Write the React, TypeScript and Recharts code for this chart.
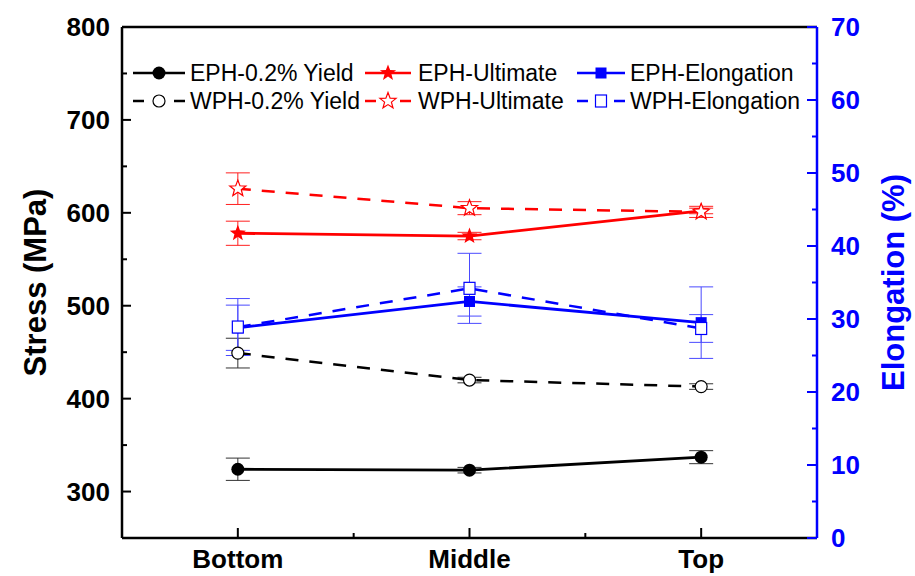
import React from "react";
import {
  ComposedChart,
  Line,
  XAxis,
  YAxis,
  ErrorBar,
  ReferenceLine,
} from "recharts";

// values
const categories = ["Bottom", "Middle", "Top"];

const ephYield = [324, 323, 337];
const ephYieldErr = [12, 3, 7];
const wphYield = [449, 420, 413];
const wphYieldErr = [16, 3, 3];

const ephUltimate = [578, 575, 602];
const ephUltimateErr = [13, 4, 3];
const wphUltimate = [626, 605, 601];
const wphUltimateErr = [17, 7, 6];

const ephElongation = [28.8, 32.4, 29.5];
const ephElongationErr = [3.1, 2.0, 4.9];
const wphElongation = [28.9, 34.2, 28.7];
const wphElongationErr = [3.9, 4.8, 1.9];

const stressTicks = [300, 350, 400, 450, 500, 550, 600, 650, 700, 750, 800];
const elongTicks = [0, 5, 10, 15, 20, 25, 30, 35, 40, 45, 50, 55, 60, 65, 70];
const posTicks = [1, 1.5, 2, 2.5, 3];

const data = categories.map((c, i) => ({
  pos: i + 1,
  category: c,
  ephYield: ephYield[i],
  ephYieldErr: ephYieldErr[i],
  wphYield: wphYield[i],
  wphYieldErr: wphYieldErr[i],
  ephUltimate: ephUltimate[i],
  ephUltimateErr: ephUltimateErr[i],
  wphUltimate: wphUltimate[i],
  wphUltimateErr: wphUltimateErr[i],
  ephElongation: ephElongation[i],
  ephElongationErr: ephElongationErr[i],
  wphElongation: wphElongation[i],
  wphElongationErr: wphElongationErr[i],
}));

type Shape = "circle" | "circleOpen" | "star" | "starOpen" | "square" | "squareOpen";

const series: {
  key: string;
  name: string;
  color: string;
  errColor: string;
  dashed: boolean;
  shape: Shape;
  axis: string;
}[] = [
  { key: "ephYield", name: "EPH-0.2% Yield", color: "#000", errColor: "#333", dashed: false, shape: "circle", axis: "stress" },
  { key: "wphYield", name: "WPH-0.2% Yield", color: "#000", errColor: "#333", dashed: true, shape: "circleOpen", axis: "stress" },
  { key: "ephUltimate", name: "EPH-Ultimate", color: "#ff0000", errColor: "#ff2020", dashed: false, shape: "star", axis: "stress" },
  { key: "wphUltimate", name: "WPH-Ultimate", color: "#ff0000", errColor: "#ff2020", dashed: true, shape: "starOpen", axis: "stress" },
  { key: "ephElongation", name: "EPH-Elongation", color: "#0000ff", errColor: "#4a4aff", dashed: false, shape: "square", axis: "elong" },
  { key: "wphElongation", name: "WPH-Elongation", color: "#0000ff", errColor: "#4a4aff", dashed: true, shape: "squareOpen", axis: "elong" },
];

const FONT = '"Liberation Sans", Arial, sans-serif';
const BLUE = "#0000ff";

function starPath(cx: number, cy: number, R: number, r: number) {
  let d = "";
  for (let i = 0; i < 10; i++) {
    const rad = i % 2 === 0 ? R : r;
    const a = -Math.PI / 2 + (i * Math.PI) / 5;
    d += `${i === 0 ? "M" : "L"}${cx + rad * Math.cos(a)},${cy + rad * Math.sin(a)}`;
  }
  return d + "Z";
}

function Marker({ cx, cy, shape, color }: { cx: number; cy: number; shape: Shape; color: string }) {
  switch (shape) {
    case "circle":
      return <circle cx={cx} cy={cy} r={6.5} fill={color} />;
    case "circleOpen":
      return <circle cx={cx} cy={cy} r={6} fill="#fff" stroke={color} strokeWidth={1.2} />;
    case "star":
      return <path d={starPath(cx, cy, 8.5, 3.6)} fill={color} />;
    case "starOpen":
      return <path d={starPath(cx, cy, 8.5, 3.6)} fill="#fff" stroke={color} strokeWidth={1.2} />;
    case "square":
      return <rect x={cx - 5.5} y={cy - 5.5} width={11} height={11} fill={color} />;
    default:
      return (
        <rect x={cx - 5.5} y={cy - 6} width={11} height={12} fill="#fff" stroke={color} strokeWidth={1.2} />
      );
  }
}

const tickFont = { fontFamily: FONT, fontWeight: 700, fontSize: 26 };

const StressTick = (props: any) => {
  const { x, y, payload } = props;
  const major = payload.value % 100 === 0;
  return (
    <g>
      <line x1={x} x2={x + (major ? 9 : 5)} y1={y} y2={y} stroke="#000" strokeWidth={2} />
      {major && (
        <text x={x - 12} y={y} textAnchor="end" dominantBaseline="central" fill="#000" style={tickFont}>
          {payload.value}
        </text>
      )}
    </g>
  );
};

const ElongTick = (props: any) => {
  const { x, y, payload } = props;
  const major = payload.value % 10 === 0;
  return (
    <g>
      <line x1={x} x2={x - (major ? 10 : 5)} y1={y} y2={y} stroke={BLUE} strokeWidth={2} />
      {major && (
        <text x={x + 14} y={y} textAnchor="start" dominantBaseline="central" fill={BLUE} style={tickFont}>
          {payload.value}
        </text>
      )}
    </g>
  );
};

const PosTick = (props: any) => {
  const { x, y, payload } = props;
  const major = Number.isInteger(payload.value);
  return (
    <g>
      <line x1={x} x2={x} y1={y} y2={y - (major ? 10 : 5)} stroke="#000" strokeWidth={2} />
      {major && (
        <text x={x} y={y + 21} textAnchor="middle" dominantBaseline="central" fill="#000" style={tickFont}>
          {categories[payload.value - 1]}
        </text>
      )}
    </g>
  );
};

const titleFont = { fontFamily: FONT, fontWeight: 700, fontSize: 31 };

const stressTitle = (props: any) => {
  const vb = props.viewBox;
  const cx = vb.x + 35;
  const cy = vb.y + vb.height / 2;
  return (
    <text x={cx} y={cy} transform={`rotate(-90 ${cx} ${cy})`} textAnchor="middle" dominantBaseline="central" fill="#000" style={titleFont}>
      Stress (MPa)
    </text>
  );
};

const elongTitle = (props: any) => {
  const vb = props.viewBox;
  const cx = vb.x + 76;
  const cy = vb.y + vb.height / 2;
  return (
    <text x={cx} y={cy} transform={`rotate(-90 ${cx} ${cy})`} textAnchor="middle" dominantBaseline="central" fill={BLUE} style={titleFont}>
      Elongation (%)
    </text>
  );
};

// legend layout: 3 columns x 2 rows (EPH row on top, WPH below)
const legendCols = [
  { x0: 133, x1: 185, mx: 159, tx: 190 },
  { x0: 365, x1: 411, mx: 388, tx: 418 },
  { x0: 577, x1: 625, mx: 601, tx: 630 },
];
const legendRows = [73, 101];

function LegendBlock() {
  return (
    <svg width={915} height={576} style={{ position: "absolute", left: 0, top: 0, pointerEvents: "none" }}>
      {series.map((s, i) => {
        const col = legendCols[Math.floor(i / 2)];
        const y = legendRows[i % 2];
        return (
          <g key={s.key}>
            {s.dashed ? (
              <>
                <line x1={col.x0} x2={col.x0 + 11} y1={y} y2={y} stroke={s.color} strokeWidth={2.5} />
                <line x1={col.x1 - 11} x2={col.x1} y1={y} y2={y} stroke={s.color} strokeWidth={2.5} />
              </>
            ) : (
              <line x1={col.x0} x2={col.x1} y1={y} y2={y} stroke={s.color} strokeWidth={2.5} />
            )}
            <Marker cx={col.mx} cy={y} shape={s.shape} color={s.color} />
            <text x={col.tx} y={y} dominantBaseline="central" fill="#000" style={{ fontFamily: FONT, fontSize: 23 }}>
              {s.name}
            </text>
          </g>
        );
      })}
    </svg>
  );
}

export default function App() {
  return (
    <div style={{ position: "absolute", left: 0, top: 0, width: 915, height: 576, background: "#fff" }}>
      <ComposedChart width={915} height={576} data={data} margin={{ top: 27, right: 0, bottom: 0, left: 0 }}>
        <XAxis
          dataKey="pos"
          type="number"
          domain={[0.5, 3.5]}
          ticks={posTicks}
          interval={0}
          height={38}
          tickSize={0}
          tickMargin={0}
          tick={<PosTick />}
          axisLine={{ stroke: "#000", strokeWidth: 2.5 }}
        />
        <YAxis
          yAxisId="stress"
          orientation="left"
          type="number"
          domain={[250, 800]}
          ticks={stressTicks}
          interval={0}
          width={122}
          tickSize={0}
          tickMargin={0}
          tick={<StressTick />}
          axisLine={{ stroke: "#000", strokeWidth: 2.5 }}
          label={stressTitle}
        />
        <YAxis
          yAxisId="elong"
          orientation="right"
          type="number"
          domain={[0, 70]}
          ticks={elongTicks}
          interval={0}
          width={98}
          tickSize={0}
          tickMargin={0}
          tick={<ElongTick />}
          axisLine={{ stroke: BLUE, strokeWidth: 2.5 }}
          label={elongTitle}
        />
        <ReferenceLine yAxisId="stress" y={800} stroke="#000" strokeWidth={2.5} />

        {series.map((s) => (
          <Line
            key={s.key}
            yAxisId={s.axis}
            dataKey={s.key}
            type="linear"
            stroke={s.color}
            strokeWidth={s.dashed ? 2.5 : 2.8}
            strokeDasharray={s.dashed ? "13 11" : undefined}
            isAnimationActive={false}
            activeDot={false}
            dot={(p: any) => (
              <Marker key={`${s.key}-${p.index}`} cx={p.cx} cy={p.cy} shape={s.shape} color={s.color} />
            )}
          >
            <ErrorBar dataKey={`${s.key}Err`} width={12} stroke={s.errColor} strokeWidth={1} direction="y" />
          </Line>
        ))}
      </ComposedChart>
      <LegendBlock />
    </div>
  );
}
